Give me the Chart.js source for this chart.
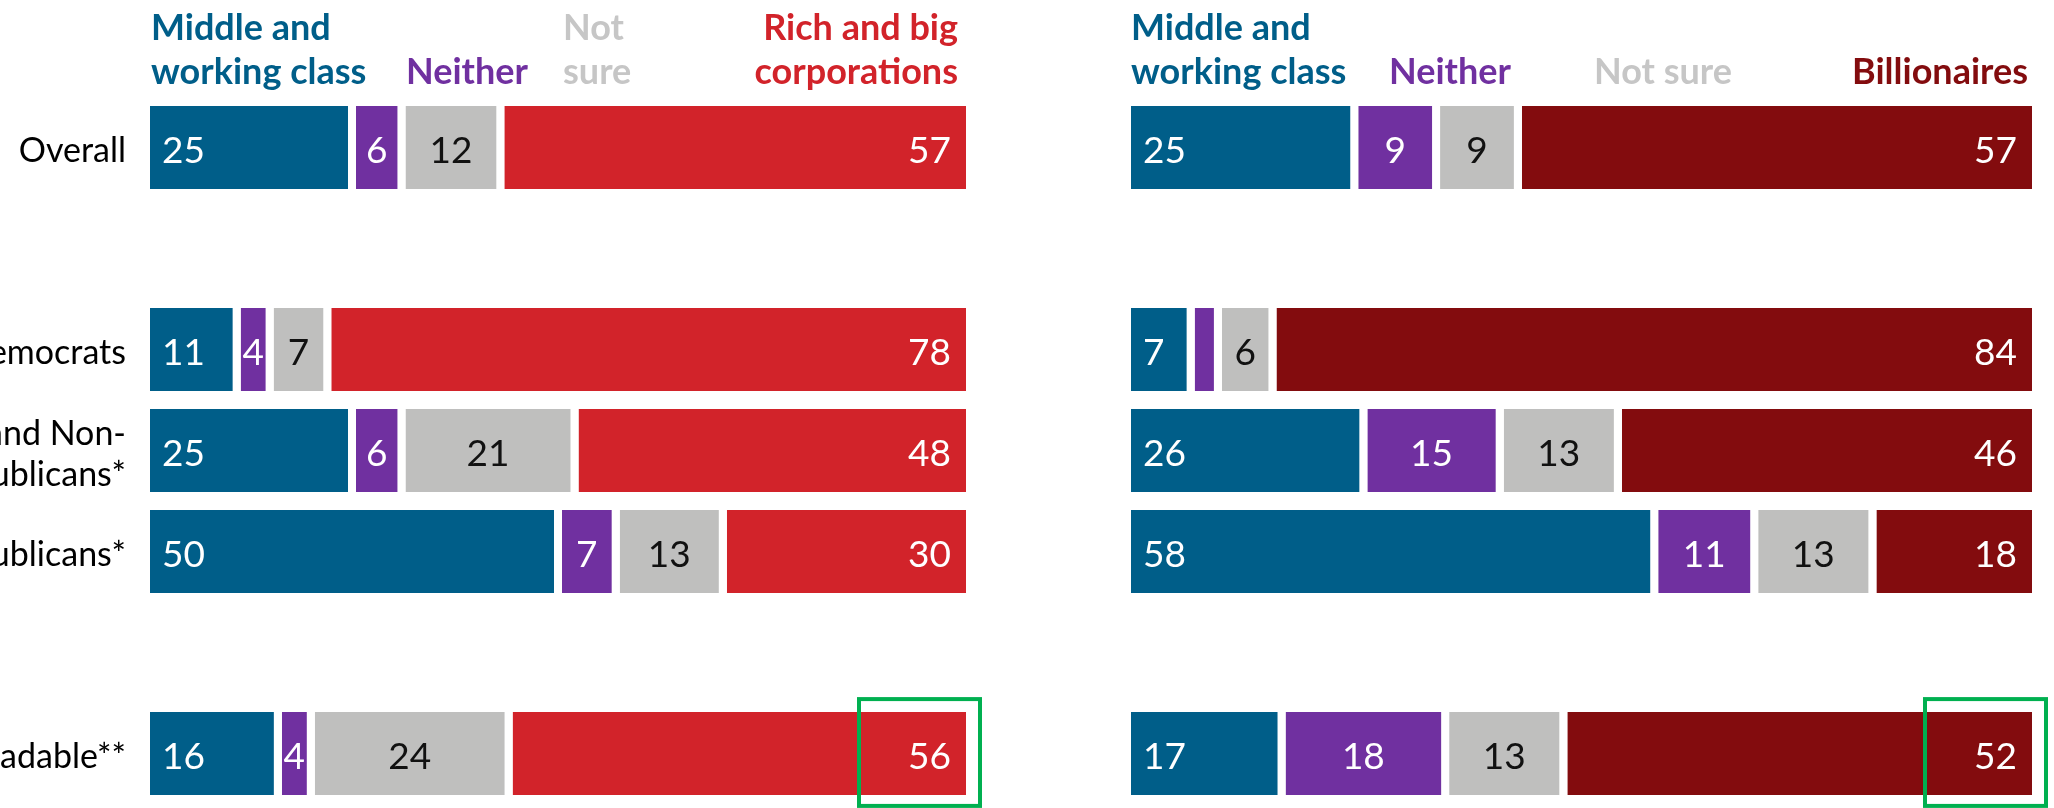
<!DOCTYPE html>
<html>
<head>
<meta charset="utf-8">
<script src="https://cdn.jsdelivr.net/npm/chart.js@4/dist/chart.umd.min.js"></script>
<style>
  html, body { margin: 0; padding: 0; background: #fff; overflow: hidden; }
  #wrap { position: relative; width: 2054px; height: 808px; }
  canvas { position: absolute; top: 0; }
  #left-chart { left: 0; }
  #right-chart { left: 1040px; }
</style>
</head>
<body>
<div id="wrap">
  <canvas id="left-chart" width="1040" height="808"></canvas>
  <canvas id="right-chart" width="1014" height="808"></canvas>
</div>
<script>
// rows (blank rows are the spacers between groups)
const rowLabels = ['Overall', '', 'Democrats', ['Independents and Non-', 'MAGA Republicans*'], 'MAGA Republicans*', '', 'Persuadable**'];

const leftSeries = ['Middle and working class', 'Neither', 'Not sure', 'Rich and big corporations'];
const rightSeries = ['Middle and working class', 'Neither', 'Not sure', 'Billionaires'];

const leftMiddle = [25, null, 11, 25, 50, null, 16];
const leftNeither = [6, null, 4, 6, 7, null, 4];
const leftNotSure = [12, null, 7, 21, 13, null, 24];
const leftRich = [57, null, 78, 48, 30, null, 56];

const rightMiddle = [25, null, 7, 26, 58, null, 17];
const rightNeither = [9, null, 3, 15, 11, null, 18];
const rightNotSure = [9, null, 6, 13, 13, null, 13];
const rightBillionaires = [57, null, 84, 46, 18, null, 52];

const BLUE = '#005E89';
const PURPLE = '#7030A0';
const GRAY = '#BFBFBE';
const RED = '#D2232A';
const DARKRED = '#830C0E';
const GAP = 8;
const FONT = 'Lato, "Open Sans", sans-serif';

// label placement per segment
const labelAlign = ['left', 'center', 'center', 'right'];
const labelColor = ['#fff', '#fff', '#111', '#fff'];

const valueLabels = {
  id: 'valueLabels',
  afterDatasetsDraw(chart) {
    const ctx = chart.ctx;
    ctx.save();
    ctx.font = '37px ' + FONT;
    ctx.textBaseline = 'middle';
    chart.data.datasets.forEach((ds, di) => {
      chart.getDatasetMeta(di).data.forEach((bar, i) => {
        const v = ds.data[i];
        if (v == null) return;
        const start = bar.base;
        const end = bar.x - GAP;
        const txt = String(v);
        const w = ctx.measureText(txt).width;
        if (end - start < w + 2) return;
        ctx.fillStyle = labelColor[di];
        const y = bar.y + 4;
        if (labelAlign[di] === 'left') {
          ctx.textAlign = 'left';
          ctx.fillText(txt, start + 12, y);
        } else if (labelAlign[di] === 'right') {
          ctx.textAlign = 'right';
          ctx.fillText(txt, end - 15, y);
        } else {
          ctx.textAlign = 'center';
          ctx.fillText(txt, (start + end) / 2, y);
        }
      });
    });
    ctx.restore();
  }
};

const headerText = {
  id: 'headerText',
  afterDraw(chart, args, opts) {
    const ctx = chart.ctx;
    ctx.save();
    ctx.font = 'bold 36px ' + FONT;
    ctx.textBaseline = 'alphabetic';
    opts.items.forEach((h) => {
      ctx.fillStyle = h.color;
      ctx.textAlign = h.align;
      const base = h.lines.length === 2 ? [40, 84] : [84];
      h.lines.forEach((line, k) => ctx.fillText(line, h.x, base[k]));
    });
    ctx.restore();
  }
};

// green box round the last value of the last row
const highlight = {
  id: 'highlight',
  afterDraw(chart) {
    const last = chart.data.datasets.length - 1;
    const bar = chart.getDatasetMeta(last).data[rowLabels.length - 1];
    const end = bar.x - GAP;
    const top = bar.y - bar.height / 2;
    const bottom = bar.y + bar.height / 2;
    const ctx = chart.ctx;
    ctx.save();
    ctx.strokeStyle = '#00B050';
    ctx.lineWidth = 4;
    ctx.strokeRect(end - 107, top - 13, 121, bottom - top + 24);
    ctx.restore();
  }
};

function makeChart(id, names, series, colors, headers, padding, showLabels) {
  const ctx = document.getElementById(id).getContext('2d');
  // eslint-disable-next-line no-undef,no-unused-vars
  return new Chart(ctx, {
    type: 'bar',
    data: {
      labels: rowLabels,
      datasets: series.map((data, i) => ({
        label: names[i],
        data: data,
        backgroundColor: colors[i],
        borderColor: '#fff',
        borderWidth: { top: 0, bottom: 0, left: 0, right: GAP },
        borderSkipped: false,
        barPercentage: 0.82,
        categoryPercentage: 1,
      })),
    },
    options: {
      indexAxis: 'y',
      responsive: false,
      animation: false,
      layout: { padding: padding },
      scales: {
        x: { stacked: true, min: 0, max: 100, display: false },
        y: {
          stacked: true,
          display: showLabels,
          grid: { display: false, drawTicks: false },
          border: { display: false },
          ticks: { color: '#000', padding: 24, labelOffset: 4, font: { family: FONT, size: 34 } },
          afterFit: (s) => {
            s.width = showLabels ? 150 : 0;
            s.paddingTop = 0;
            s.paddingBottom = 0;
          },
        },
      },
      plugins: {
        legend: { display: false },
        tooltip: { enabled: false },
        headerText: { items: headers },
      },
    },
    plugins: [valueLabels, headerText, highlight],
  });
}

makeChart('left-chart', leftSeries,
  [leftMiddle, leftNeither, leftNotSure, leftRich],
  [BLUE, PURPLE, GRAY, RED],
  [
    { lines: ['Middle and', 'working class'], color: BLUE, align: 'left', x: 151 },
    { lines: ['Neither'], color: PURPLE, align: 'left', x: 406 },
    { lines: ['Not', 'sure'], color: '#C6C6C6', align: 'left', x: 563 },
    { lines: ['Rich and big', 'corporations'], color: RED, align: 'right', x: 958 },
  ],
  { top: 97, bottom: 4, left: 0, right: 66 }, true);

makeChart('right-chart', rightSeries,
  [rightMiddle, rightNeither, rightNotSure, rightBillionaires],
  [BLUE, PURPLE, GRAY, DARKRED],
  [
    { lines: ['Middle and', 'working class'], color: BLUE, align: 'left', x: 91 },
    { lines: ['Neither'], color: PURPLE, align: 'left', x: 349 },
    { lines: ['Not sure'], color: '#C6C6C6', align: 'left', x: 554 },
    { lines: ['Billionaires'], color: DARKRED, align: 'right', x: 988 },
  ],
  { top: 97, bottom: 4, left: 91, right: 14 }, false);
</script>
</body>
</html>
